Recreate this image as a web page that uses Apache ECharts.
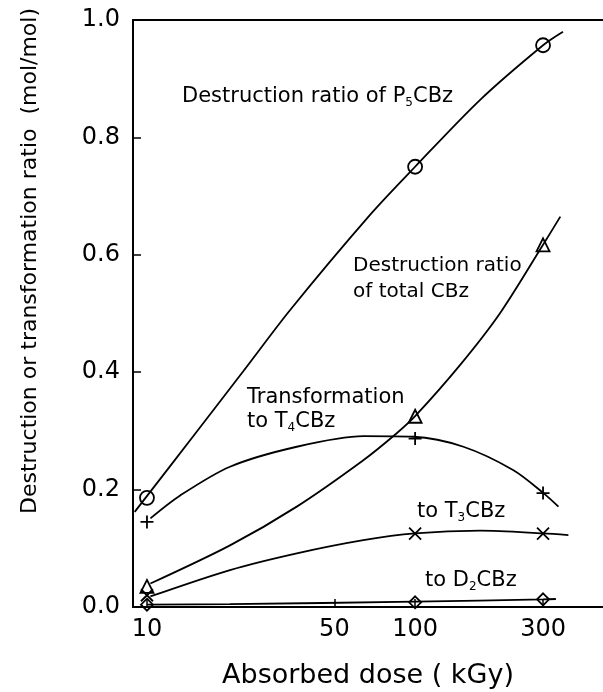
<!DOCTYPE html>
<html>
<head>
<meta charset="utf-8">
<script src="https://cdn.jsdelivr.net/npm/echarts@6/dist/echarts.min.js"></script>
<style>
  html, body { margin: 0; padding: 0; background: #fff; }
  #chart { width: 603px; height: 692px; }
</style>
</head>
<body>
<div id="chart"></div>
<script>
// measured points (absorbed dose, kGy)
var doses = [10, 100, 300];
var p5Ratio = [0.186, 0.750, 0.957];
var totalRatio = [0.035, 0.325, 0.617];
var t4Ratio = [0.145, 0.287, 0.194];
var t3Ratio = [0.020, 0.125, 0.125];
var d2Ratio = [0.004, 0.008, 0.013];

// fitted curves
var p5Fit = [[9.0, 0.162], [15.3, 0.298], [22.9, 0.402], [34.2, 0.506], [67.9, 0.668], [100, 0.75], [174.8, 0.864], [300, 0.957], [356, 0.98]];
var totalFit = [[10.3, 0.04], [20.4, 0.105], [36.2, 0.171], [64.1, 0.25], [85.4, 0.296], [100, 0.325], [147, 0.412], [207, 0.50], [300, 0.617], [348, 0.665]];
var t4Fit = [[10.3, 0.151], [13.3, 0.19], [20.4, 0.239], [36.2, 0.273], [64.1, 0.291], [98.6, 0.29], [151.4, 0.273], [232.7, 0.233], [301, 0.194], [342.4, 0.171]];
var t3Fit = [[10.3, 0.018], [20.4, 0.063], [36.2, 0.0915], [64.1, 0.114], [100, 0.1255], [174.9, 0.13], [300, 0.1255], [373, 0.1226]];
var d2Fit = [[10, 0.004], [20.4, 0.005], [100, 0.009], [300, 0.013], [335, 0.0136]];

var doseTicks = [10, 50, 100, 300];

var FONT = 'DejaVu Sans';

function pairs(xs, ys) {
    return xs.map(function (x, i) { return [x, ys[i]]; });
}

function fitLine(name, data) {
    return {
        name: name, type: 'line', data: data, smooth: 0.3, showSymbol: false,
        lineStyle: { color: '#000', width: 1.8 }, z: 2, silent: true
    };
}

function marks(name, data, symbol, size) {
    return {
        name: name + ' pts', type: 'scatter', data: data, symbol: symbol, symbolSize: size,
        itemStyle: { color: 'rgba(0,0,0,0)', borderColor: '#000', borderWidth: 1.8, opacity: 1 }, z: 3
    };
}

var plusPath = 'path://M0,6L12,6M6,0L6,12';
var crossPath = 'path://M0,0L12,12M0,12L12,0';

var sub = { fontSize: 12, fontFamily: FONT, fill: '#000', verticalAlign: 'bottom', lineHeight: 14 };

function note(x, y, text, lh, fs) {
    return {
        type: 'text', x: x, y: y, z: 10,
        style: {
            text: text, align: 'left', verticalAlign: 'middle',
            rich: {
                a: { fontSize: fs || 21, fontFamily: FONT, fill: '#000', lineHeight: lh || 24 },
                s: sub
            }
        }
    };
}

var myChart = echarts.init(document.getElementById('chart'));

var option = {
    animation: false,
    backgroundColor: '#fff',
    grid: { left: 133, right: 0, top: 20, bottom: 85, containLabel: false, outerBoundsMode: 'none' },
    xAxis: [{
        type: 'log', logBase: 10, min: 8.87, max: 502, position: 'bottom',
        axisLine: { lineStyle: { color: '#000', width: 2 } },
        axisTick: { inside: true, length: 8, customValues: doseTicks, lineStyle: { color: '#000', width: 1.5 } },
        axisLabel: { customValues: doseTicks, color: '#000', fontSize: 24, fontFamily: FONT, margin: 11 },
        splitLine: { show: false },
        minorTick: { show: false },
        name: 'Absorbed dose ( kGy)', nameLocation: 'middle', nameGap: 55,
        nameTextStyle: { color: '#000', fontSize: 27, fontFamily: FONT }
    }, {
        // top frame line
        type: 'value', position: 'top', min: 0, max: 1,
        axisLine: { show: true, lineStyle: { color: '#000', width: 2 } },
        axisTick: { show: false }, axisLabel: { show: false }, splitLine: { show: false }
    }],
    yAxis: {
        type: 'value', min: 0, max: 1, interval: 0.2,
        axisLine: { show: true, lineStyle: { color: '#000', width: 2 } },
        axisTick: { show: true, inside: true, length: 8, lineStyle: { color: '#000', width: 1.5 } },
        axisLabel: {
            color: '#000', fontSize: 24, fontFamily: FONT, margin: 13,
            formatter: function (v) { return v.toFixed(1); }
        },
        splitLine: { show: false }
    },
    series: [
        fitLine('P5CBz', p5Fit),
        fitLine('total CBz', totalFit),
        fitLine('T4CBz', t4Fit),
        fitLine('T3CBz', t3Fit),
        fitLine('D2CBz', d2Fit),
        marks('P5CBz', pairs(doses, p5Ratio), 'circle', 14),
        marks('total CBz', pairs(doses, totalRatio), 'triangle', 13),
        marks('T4CBz', pairs(doses, t4Ratio), plusPath, 13),
        marks('T3CBz', pairs(doses, t3Ratio), crossPath, 12),
        marks('D2CBz', pairs(doses, d2Ratio), 'diamond', 12)
    ],
    graphic: [
        {
            type: 'text', x: 30, y: 261, rotation: Math.PI / 2,
            style: {
                text: 'Destruction or transformation ratio  (mol/mol)',
                font: '22px "DejaVu Sans"', fill: '#000', align: 'center', verticalAlign: 'middle'
            }
        },
        note(182, 97, '{a|Destruction ratio of P}{s|5}{a|CBz}'),
        note(353, 279, '{a|Destruction ratio}\n{a|of total CBz}', 26, 20),
        note(247, 410, '{a|Transformation}\n{a|to T}{s|4}{a|CBz}', 24),
        note(417, 512, '{a|to T}{s|3}{a|CBz}'),
        note(425, 581, '{a|to D}{s|2}{a|CBz}')
    ]
};

option && typeof option === 'object' && myChart.setOption(option, true);
</script>
</body>
</html>
